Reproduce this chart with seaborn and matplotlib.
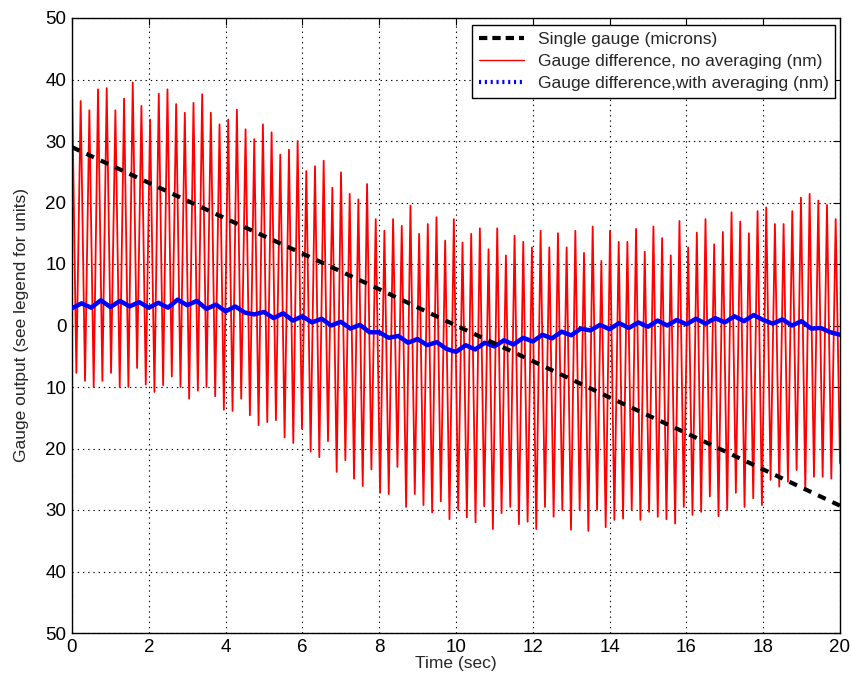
import numpy as np
import pandas as pd
import matplotlib
matplotlib.use("Agg")
import matplotlib.pyplot as plt
import seaborn as sns
from matplotlib.lines import Line2D

# ---------------- data ----------------
# red: gauge difference, no averaging (nm) -- successive peak / trough values per cycle
red_peaks = [39.5, 36.5, 35.0, 38.4, 38.6, 35.0, 36.9, 39.5, 35.7, 33.5, 37.7, 38.4, 36.0, 34.6, 36.2,
             37.6, 34.6, 32.7, 33.5, 35.1, 31.9, 30.3, 32.7, 31.4, 27.8, 28.6, 30.0, 25.1, 25.9, 26.8,
             22.4, 24.9, 21.4, 20.5, 23.0, 17.3, 15.4, 17.3, 16.2, 19.5, 14.9, 16.5, 17.6, 13.8,
             17.3, 13.5, 14.9, 15.8, 12.4, 15.8, 11.4, 14.6, 13.6, 12.7, 15.4, 12.7, 15.0, 12.7, 15.4,
             11.8, 16.1, 10.5, 15.4, 13.6, 13.6, 15.7, 12.0, 16.1, 14.2, 11.4, 17.0, 12.7, 15.1, 17.3,
             13.2, 15.2, 18.4, 16.9, 15.0, 18.6, 19.2, 16.5, 16.5, 18.6, 20.8, 21.4, 20.3, 19.6, 17.3]
red_troughs = [-7.7, -9.0, -10.0, -9.0, -7.7, -10.0, -10.0, -6.9, -9.6, -10.8, -9.7, -8.3, -10.0, -11.9,
               -10.6, -10.0, -11.5, -13.7, -13.9, -11.9, -14.6, -16.2, -15.7, -15.4, -18.2, -19.1, -16.8,
               -20.5, -21.4, -18.8, -23.8, -21.9, -24.9, -26.1, -23.4, -27.2, -27.4, -23.0, -29.5, -27.4,
               -29.2, -30.4, -28.6, -31.5,
               -30.0, -31.2, -32.0, -29.4, -33.1, -30.5, -29.5, -32.3, -31.9, -33.1, -29.5, -31.1, -30.0,
               -33.2, -30.0, -33.4, -30.0, -32.8, -31.6, -31.4, -30.0, -31.6, -30.3, -31.1, -31.5, -32.2,
               -29.5, -30.8, -30.3, -27.8, -31.0, -30.0, -27.2, -29.5, -28.1, -29.2, -25.1, -26.2, -25.4,
               -23.5, -26.8, -24.6, -24.6, -24.9, -22.4]

# blue: gauge difference with averaging (nm), every 0.25 s
blue_vals = [2.8, 3.6, 2.9, 4.1, 3.0, 4.0, 3.1, 3.8, 2.9, 3.7, 2.9, 4.2, 3.3, 4.0, 2.7, 3.4,
             2.3, 3.1, 2.1, 1.8, 2.2, 1.2, 2.0, 0.8, 1.5, 0.5, 1.1, 0.0, 0.6, -0.5, 0.1, -1.1,
             -1.1, -2.0, -1.7, -2.8, -2.2, -3.2, -2.7, -3.8, -4.3, -3.2, -3.9, -2.8, -3.4, -2.4,
             -3.1, -2.0, -2.6, -1.5, -2.1, -1.0, -1.6, -0.5, -0.8, 0.1, -0.6, 0.4, -0.4, 0.5,
             -0.2, 0.8, 0.0, 0.9, 0.2, 1.1, 0.3, 1.2, 0.5, 1.5, 0.7, 1.7, 0.9, 0.3, 1.0, 0.0,
             0.7, -0.5, -0.4, -1.1, -1.5]

# black: single gauge (microns), every 2 s
single_t = [0, 2, 4, 6, 8, 10, 12, 14, 16, 18, 20]
single_vals = [29.0, 23.2, 17.4, 11.7, 5.9, 0.0, -5.8, -11.7, -17.5, -23.4, -29.3]

x_ticks = [0, 2, 4, 6, 8, 10, 12, 14, 16, 18, 20]
y_ticks = [-50, -40, -30, -20, -10, 0, 10, 20, 30, 40, 50]
y_tick_labels = ["50", "40", "30", "20", "10", "0", "10", "20", "30", "40", "50"]

labels = ["Single gauge (microns)",
          "Gauge difference, no averaging (nm)",
          "Gauge difference,with averaging (nm)"]

# ---------------- build tables ----------------
n = len(red_peaks)
red_v = np.empty(2 * n)
red_v[0::2] = red_peaks
red_v[1::2] = red_troughs
df_red = pd.DataFrame({"t": np.linspace(0, 20, 2 * n), "v": red_v})
df_blue = pd.DataFrame({"t": np.linspace(0, 20, len(blue_vals)), "v": blue_vals})
df_black = pd.DataFrame({"t": single_t, "v": single_vals})

# ---------------- plot ----------------
sns.set_theme(style="white")
plt.rcParams["font.family"] = ["Liberation Sans", "DejaVu Sans"]

fig = plt.figure(figsize=(8.53, 6.81), dpi=100)
ax = fig.add_axes([72 / 853, 48 / 681, 768 / 853, 615 / 681])

sns.lineplot(data=df_red, x="t", y="v", ax=ax, color="#ff0000", linewidth=1.3,
             estimator=None, sort=False, zorder=2)
sns.lineplot(data=df_blue, x="t", y="v", ax=ax, color="#0000ff", linewidth=3.2,
             estimator=None, sort=False, zorder=3)
sns.lineplot(data=df_black, x="t", y="v", ax=ax, color="black", linewidth=3.0,
             estimator=None, sort=False, zorder=4)
ax.lines[-1].set_dashes((2, 1.8))

ax.set_xlim(0, 20)
ax.set_ylim(-50, 50)
ax.set_xticks(x_ticks)
ax.set_xticklabels([str(v) for v in x_ticks])
ax.set_yticks(y_ticks)
ax.set_yticklabels(y_tick_labels)
ax.set_xlabel("Time (sec)", fontsize=12.5, labelpad=0)
ax.set_ylabel("Gauge output (see legend for units)", fontsize=12.5, labelpad=12)

ax.grid(True, color="black", linestyle=(0, (1.2, 3.5)), linewidth=0.8)
ax.set_axisbelow(True)
for s in ax.spines.values():
    s.set_color("black")
    s.set_linewidth(1.0)
ax.tick_params(direction="in", length=5, width=0.8, top=True, right=True,
               labelsize=13.5, colors="black", pad=4)

handles = [Line2D([], [], color="black", linewidth=3.0, dashes=(2, 1.2)),
           Line2D([], [], color="#ff0000", linewidth=1.0),
           Line2D([], [], color="#0000ff", linewidth=3.0, dashes=(0.5, 0.9))]
leg = ax.legend(handles, labels, loc="upper right", bbox_to_anchor=(0.994, 0.989),
                borderaxespad=0, fontsize=12.5, frameon=True, fancybox=False,
                edgecolor="black", framealpha=1, handlelength=2.6, handletextpad=0.8,
                labelspacing=0.4, borderpad=0.4)
leg.get_frame().set_linewidth(1.0)

fig.savefig("out.png", dpi=100)
